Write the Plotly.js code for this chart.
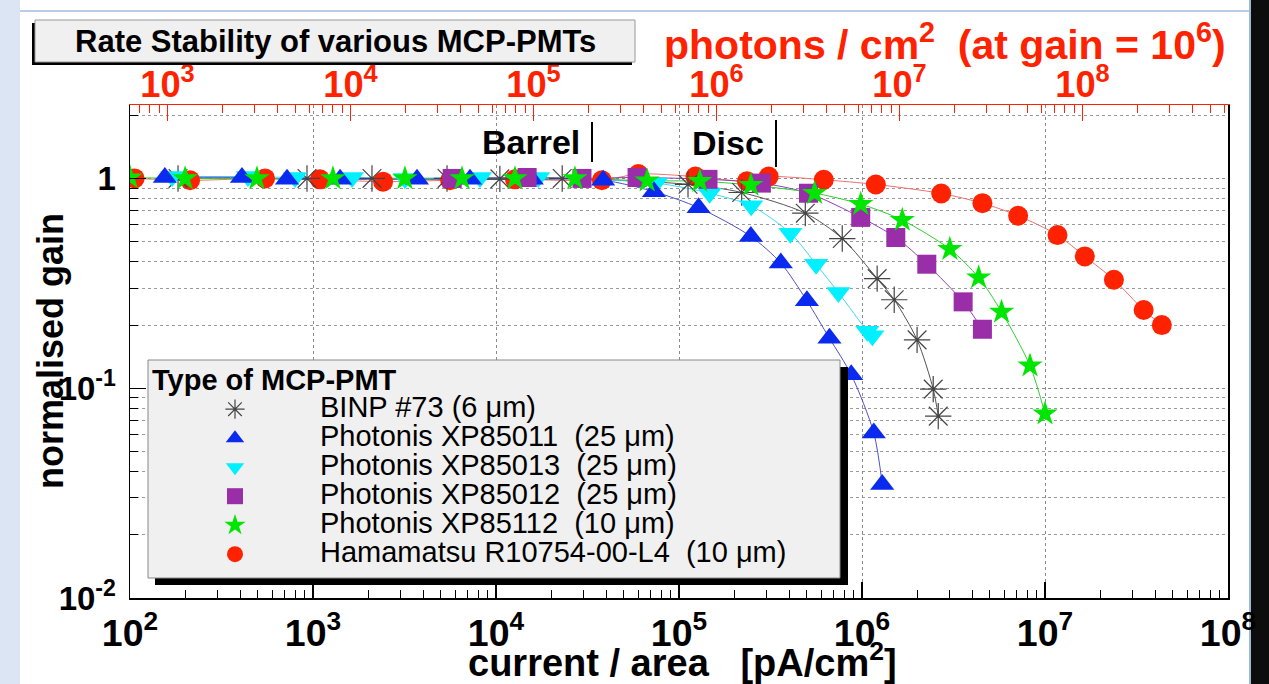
<!DOCTYPE html>
<html>
<head>
<meta charset="utf-8">
<script src="https://cdn.plot.ly/plotly-3.0.1.min.js"></script>
<style>
html,body{margin:0;padding:0;background:#ffffff;}
#chart{width:1269px;height:684px;}
</style>
</head>
<body>
<div id="chart"></div>
<script>
// ---- data (current / area in pA/cm^2, normalised gain) ----
const binpX = [183, 927, 2100, 5400, 10500, 23000, 112000, 220000, 490000, 780000, 1210000, 1500000, 2000000, 2450000, 2610000];
const binpY = [1.00, 1.00, 1.00, 1.00, 0.995, 1.00, 0.937, 0.857, 0.683, 0.517, 0.333, 0.264, 0.170, 0.099, 0.0736];

const xp85011X = [155, 409, 721, 1406, 3700, 7210, 15700, 38500, 73000, 128000, 247000, 360000, 500000, 664000, 873000, 1160000, 1290000];
const xp85011Y = [1.01, 1.01, 0.99, 0.99, 0.99, 0.99, 0.99, 0.98, 0.865, 0.725, 0.529, 0.395, 0.261, 0.173, 0.116, 0.0612, 0.0348];

const xp85013X = [170, 441, 798, 1634, 3180, 8180, 17000, 75000, 147000, 248000, 406000, 561000, 743000, 1070000, 1140000];
const xp85013Y = [1.02, 1.02, 1.01, 1.01, 1.00, 1.01, 1.01, 0.95, 0.85, 0.74, 0.548, 0.390, 0.286, 0.187, 0.178];

const xp85012X = [5760, 14800, 29500, 59000, 144000, 282000, 510000, 984000, 1530000, 2260000, 3570000, 4550000];
const xp85012Y = [1.00, 1.01, 1.00, 1.01, 0.99, 0.95, 0.85, 0.652, 0.523, 0.390, 0.258, 0.191];

const xp85112X = [100, 200, 494, 1285, 3180, 6520, 12700, 27000, 67000, 130000, 247000, 551000, 984000, 1660000, 3020000, 4340000, 5790000, 8280000, 10000000];
const xp85112Y = [1.01, 1.00, 1.00, 1.00, 1.00, 1.00, 1.00, 1.00, 0.975, 0.97, 0.93, 0.851, 0.754, 0.633, 0.460, 0.337, 0.231, 0.128, 0.0756];

const hamaX = [106, 213, 547, 1090, 2415, 5610, 12700, 37900, 60000, 123000, 235000, 309000, 618000, 1190000, 2710000, 4550000, 7130000, 11700000, 16500000, 23800000, 34600000, 43500000];
const hamaY = [1.00, 0.98, 1.00, 0.99, 0.965, 0.98, 0.99, 0.98, 1.05, 1.02, 0.97, 1.02, 0.985, 0.936, 0.848, 0.762, 0.664, 0.537, 0.425, 0.329, 0.236, 0.20];

const seriesNames = [
  'BINP #73 (6 \u03bcm)',
  'Photonis XP85011 \u00a0(25 \u03bcm)',
  'Photonis XP85013 \u00a0(25 \u03bcm)',
  'Photonis XP85012 \u00a0(25 \u03bcm)',
  'Photonis XP85112 \u00a0(10 \u03bcm)',
  'Hamamatsu R10754-00-L4 \u00a0(10 \u03bcm)'
];

// y tick labels
const yTickVals = [0.01, 0.1, 1];
const yTickText = ['10<sup>-2</sup>', '10<sup>-1</sup>', '1'];

// photons/cm^2 per pA/cm^2 at gain 1e6 : 1e-12 / (1e6 * 1.602e-19)
const photonsPerPA = 1e-12 / (1e6 * 1.602e-19);
const photonShift = Math.log10(photonsPerPA);

const FONT = 'Liberation Sans, Arial, Helvetica, sans-serif';
const legendLabel = t => '<span style="font-size:29px">' + t + '</span>';

const specs = [
  {x: hamaX,    y: hamaY,    name: seriesNames[5], rank: 6, sym: 'circle',        size: 20, col: '#ff2200', line: '#f07070'},
  {x: binpX,    y: binpY,    name: seriesNames[0], rank: 1, sym: 'asterisk-open', size: 22, col: '#444444', line: '#555555'},
  {x: xp85013X, y: xp85013Y, name: seriesNames[2], rank: 3, sym: 'triangle-down', size: 21, col: '#00f0ff', line: '#40d8f0'},
  {x: xp85011X, y: xp85011Y, name: seriesNames[1], rank: 2, sym: 'triangle-up',   size: 21, col: '#0a2af0', line: '#5050c8'},
  {x: xp85012X, y: xp85012Y, name: seriesNames[3], rank: 4, sym: 'square',        size: 19, col: '#9a2da8', line: '#9040b8'},
  {x: xp85112X, y: xp85112Y, name: seriesNames[4], rank: 5, sym: 'star',          size: 19, col: '#00e600', line: '#30d030'}
];

const traces = [];
specs.forEach(s => {
  traces.push({
    type: 'scatter', mode: 'lines', x: s.x, y: s.y, showlegend: false, hoverinfo: 'skip',
    line: {color: s.line, width: 1, shape: 'spline', smoothing: 0.8}
  });
});
specs.forEach(s => {
  const m = {symbol: s.sym, size: s.size, color: s.col};
  if (s.sym === 'asterisk-open') { m.line = {color: s.col, width: 1.2}; }
  else { m.line = {width: 0}; }
  traces.push({
    type: 'scatter', mode: 'markers', x: s.x, y: s.y, name: legendLabel(s.name), legendrank: s.rank,
    marker: m
  });
});
// top photon axis carrier
traces.push({type: 'scatter', mode: 'markers', x: [], y: [], xaxis: 'x2', showlegend: false, hoverinfo: 'skip'});

// pixel -> paper helpers for decorations
const L = 130, R = 1228, T = 105, B = 598;
const px = v => (v - L) / (R - L);
const py = v => (B - v) / (B - T);

const shapes = [
  // screenshot frame
  {type: 'rect', xref: 'paper', yref: 'paper', x0: px(0), x1: px(20), y0: py(684), y1: py(0), fillcolor: '#dbe5f3', line: {width: 0}, layer: 'below'},
  {type: 'line', xref: 'paper', yref: 'paper', x0: px(20), x1: px(1250), y0: py(11), y1: py(11), line: {color: '#b8cde8', width: 2}, layer: 'below'},
  {type: 'rect', xref: 'paper', yref: 'paper', x0: px(1251), x1: px(1269), y0: py(684), y1: py(0), fillcolor: '#0d0d0d', line: {width: 0}, layer: 'below'},
  {type: 'line', xref: 'paper', yref: 'paper', x0: px(1250), x1: px(1250), y0: py(684), y1: py(0), line: {color: '#9fb8d8', width: 2}, layer: 'below'},
  // title box
  {type: 'rect', xref: 'paper', yref: 'paper', x0: px(32), x1: px(632), y0: py(65), y1: py(23), fillcolor: '#000000', line: {width: 0}},
  {type: 'rect', xref: 'paper', yref: 'paper', x0: px(35), x1: px(635), y0: py(62), y1: py(20), fillcolor: '#f0f0f0', line: {color: '#999999', width: 1}},
  // legend box
  {type: 'rect', xref: 'paper', yref: 'paper', x0: px(155), x1: px(848), y0: py(585), y1: py(367), fillcolor: '#000000', line: {width: 0}},
  {type: 'rect', xref: 'paper', yref: 'paper', x0: px(148), x1: px(840), y0: py(578), y1: py(360), fillcolor: '#f0f0f0', line: {color: '#888888', width: 1}},
  // Barrel / Disc markers
  {type: 'line', xref: 'paper', yref: 'paper', x0: px(592), x1: px(592), y0: py(162), y1: py(122), line: {color: '#000', width: 2}},
  {type: 'line', xref: 'paper', yref: 'paper', x0: px(776), x1: px(776), y0: py(167), y1: py(120), line: {color: '#000', width: 2}}
];

const annotations = [
  {xref: 'paper', yref: 'paper', x: px(335), y: py(41), text: '<b>Rate Stability of various MCP-PMTs</b>', showarrow: false,
   font: {family: FONT, size: 31, color: '#000'}, xanchor: 'center', yanchor: 'middle'},
  {xref: 'paper', yref: 'paper', x: px(945), y: py(42), text: '<b>photons / cm<sup>2</sup>\u00a0 (at gain = 10<sup>6</sup>)</b>', showarrow: false,
   font: {family: FONT, size: 41, color: '#ff2200'}, xanchor: 'center', yanchor: 'middle'},
  {xref: 'paper', yref: 'paper', x: px(582), y: py(142), text: '<b>Barrel</b>', showarrow: false,
   font: {family: FONT, size: 34, color: '#000'}, xanchor: 'right', yanchor: 'middle'},
  {xref: 'paper', yref: 'paper', x: px(766), y: py(143), text: '<b>Disc</b>', showarrow: false,
   font: {family: FONT, size: 34, color: '#000'}, xanchor: 'right', yanchor: 'middle'},
  {xref: 'paper', yref: 'paper', x: px(682), y: py(660), text: '<b>current / area \u00a0 [pA/cm<sup>2</sup>]</b>', showarrow: false,
   font: {family: FONT, size: 38, color: '#000'}, xanchor: 'center', yanchor: 'middle'},
  {xref: 'paper', yref: 'paper', x: px(50), y: py(351), text: '<b>normalised gain</b>', showarrow: false, textangle: -90,
   font: {family: FONT, size: 36, color: '#000'}, xanchor: 'center', yanchor: 'middle'}
];

const layout = {
  width: 1269, height: 684,
  margin: {l: L, r: 1269 - R, t: T, b: 684 - B, pad: 0},
  paper_bgcolor: '#ffffff', plot_bgcolor: '#ffffff',
  font: {family: FONT, color: '#000'},
  showlegend: true,
  xaxis: {
    type: 'log', range: [2, 8], dtick: 1, exponentformat: 'power',
    ticks: 'inside', ticklen: 16, tickwidth: 1.2, tickcolor: '#000',
    showline: true, linecolor: '#000', linewidth: 1.5, mirror: false,
    showgrid: true, gridcolor: '#8a8a8a', griddash: 'dot', gridwidth: 1, zeroline: false,
    minor: {ticks: 'inside', ticklen: 8, tickwidth: 1, tickcolor: '#000', dtick: 'D1', showgrid: false},
    tickfont: {family: FONT, size: 30, weight: 700, color: '#000'}, ticklabelstandoff: 3,
    fixedrange: true
  },
  xaxis2: {
    type: 'log', overlaying: 'x', side: 'top', anchor: 'y',
    range: [2 + photonShift, 8 + photonShift], dtick: 1, exponentformat: 'power',
    ticks: 'inside', ticklen: 16, tickwidth: 1.2, tickcolor: '#ff2200',
    showline: true, linecolor: '#ff2200', linewidth: 1.5,
    showgrid: false, zeroline: false,
    minor: {ticks: 'inside', ticklen: 8, tickwidth: 1, tickcolor: '#ff2200', dtick: 'D1', showgrid: false},
    tickfont: {family: FONT, size: 29, weight: 700, color: '#ff2200'}, ticklabelstandoff: -7,
    fixedrange: true
  },
  yaxis: {
    type: 'log', range: [-2, 0.35], tickmode: 'array', tickvals: yTickVals, ticktext: yTickText,
    ticks: 'inside', ticklen: 16, tickwidth: 1.2, tickcolor: '#000',
    showline: true, linecolor: '#000', linewidth: 1.5, mirror: true,
    showgrid: true, gridcolor: '#8a8a8a', griddash: 'dot', gridwidth: 1, zeroline: false,
    minor: {tickmode: 'linear', ticks: 'inside', ticklen: 8, tickwidth: 1, tickcolor: '#000', dtick: 'D1', showgrid: true, gridcolor: '#9a9a9a', griddash: 'dot', gridwidth: 1},
    tickfont: {family: FONT, size: 33, weight: 700, color: '#000'}, ticklabelstandoff: 6,
    fixedrange: true
  },
  legend: {
    x: px(150), y: py(352), xanchor: 'left', yanchor: 'top',
    bgcolor: 'rgba(0,0,0,0)', borderwidth: 0,
    font: {family: FONT, size: 20, color: '#000'},
    title: {text: '<b>Type of MCP-PMT</b>', font: {family: FONT, size: 29, color: '#000'}, side: 'top'},
    itemwidth: 160, tracegroupgap: 0, traceorder: 'normal'
  },
  shapes: shapes,
  annotations: annotations
};

Plotly.newPlot('chart', traces, layout, {displayModeBar: false, staticPlot: true});
</script>
</body>
</html>
